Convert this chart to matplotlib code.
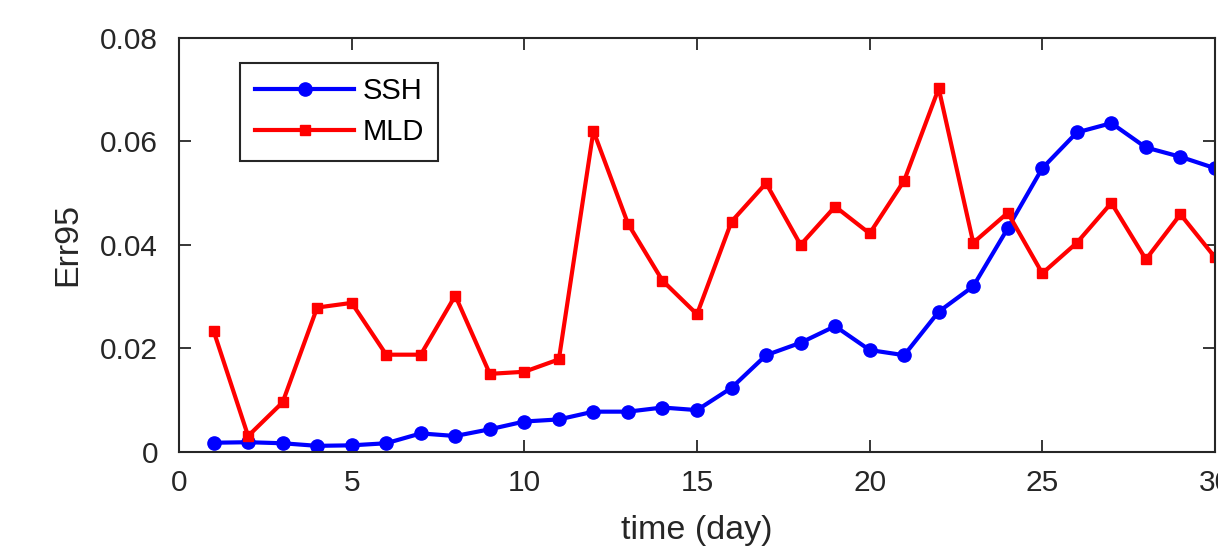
import numpy as np
import matplotlib
matplotlib.use('Agg')
import matplotlib.pyplot as plt

days = np.arange(1, 31)
ssh = [0.0018, 0.0019, 0.0017, 0.0012, 0.0013, 0.0017, 0.0036, 0.0031, 0.0044, 0.0059,
       0.0063, 0.0078, 0.0078, 0.0086, 0.0081, 0.0124, 0.0187, 0.0211, 0.0243, 0.0197,
       0.0187, 0.0271, 0.0320, 0.0432, 0.0548, 0.0617, 0.0635, 0.0588, 0.0570, 0.0548]
mld = [0.0234, 0.0031, 0.0096, 0.0279, 0.0288, 0.0188, 0.0188, 0.0302, 0.0151, 0.0155,
       0.0179, 0.0620, 0.0441, 0.0331, 0.0266, 0.0445, 0.0519, 0.0400, 0.0474, 0.0422,
       0.0524, 0.0702, 0.0404, 0.0462, 0.0345, 0.0404, 0.0481, 0.0372, 0.0459, 0.0376]
xticks = [0, 5, 10, 15, 20, 25, 30]
yticks = [0, 0.02, 0.04, 0.06, 0.08]
ytick_labels = ['0', '0.02', '0.04', '0.06', '0.08']

AX_COLOR = '#262626'
plt.rcParams['font.family'] = ['Liberation Sans', 'DejaVu Sans']

fig = plt.figure(figsize=(12.18, 5.54), dpi=100)
ax = fig.add_axes([0.147, 0.184, 0.8505, 0.748])

ax.plot(days, ssh, color='#0000ff', linewidth=3.0, marker='o', markersize=9.5, label='SSH')
ax.plot(days, mld, color='#ff0000', linewidth=3.0, marker='s', markersize=7.5, label='MLD')

ax.set_xlim(0, 30)
ax.set_ylim(0, 0.08)
ax.set_xticks(xticks)
ax.set_yticks(yticks)
ax.set_yticklabels(ytick_labels)
ax.tick_params(direction='in', length=8.5, width=1.3, colors=AX_COLOR,
               labelsize=21.5, top=True, right=True, pad=12)
ax.tick_params(axis='y', pad=15)
for sp in ax.spines.values():
    sp.set_color(AX_COLOR)
    sp.set_linewidth(1.5)

ax.set_xlabel('time (day)', fontsize=24.5, color=AX_COLOR, labelpad=13)
ax.set_ylabel('Err95', fontsize=24.5, color=AX_COLOR, labelpad=12)

leg = ax.legend(loc='upper left', bbox_to_anchor=(0.059, 0.94), borderaxespad=0,
                fontsize=21, handlelength=3.42, handletextpad=0.27, borderpad=0.5,
                labelspacing=0.45, fancybox=False, framealpha=1, edgecolor=AX_COLOR)
leg.get_frame().set_linewidth(1.5)

fig.savefig('out.png', dpi=100)
